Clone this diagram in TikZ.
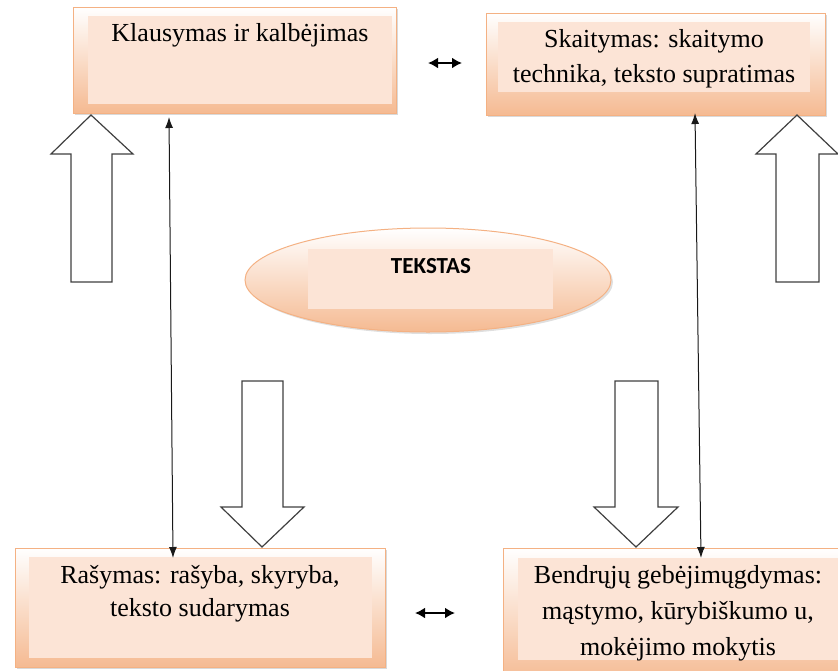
\documentclass[tikz,border=0pt]{standalone}
\usepackage{fontspec}
\setmainfont{Liberation Serif}
\newfontfamily\calib{Carlito}
\usetikzlibrary{shadows,arrows.meta,shapes.geometric}
\definecolor{peach}{HTML}{FCE4D6}
\definecolor{orng}{HTML}{F4B183}
\definecolor{orngdeep}{HTML}{F5BA92}
\definecolor{arrowgray}{HTML}{404040}
\tikzset{
  outerbox/.style={draw=orng, line width=1pt, top color=white, bottom color=orngdeep,
    drop shadow={opacity=0.3, shadow xshift=2pt, shadow yshift=-2pt},
    inner sep=0pt, outer sep=0pt, anchor=north west},
  innerbox/.style={fill=peach, draw=none, inner sep=0pt, outer sep=0pt, anchor=north west},
  blockarrow/.style={draw=arrowgray, line width=1.2pt, fill=white, line join=miter},
  thinarrow/.style={draw=black!90, line width=1pt,
    {Latex[length=11pt,width=8pt]}-{Latex[length=11pt,width=8pt]}},
  smallarrow/.style={line width=2pt,
    {Latex[length=10pt,width=11pt]}-{Latex[length=10pt,width=11pt]}},
  boxtext/.style={align=center, inner sep=0pt, anchor=base}
}
\begin{document}
\begin{tikzpicture}[x=1pt,y=-1pt]
\useasboundingbox (0,0) rectangle (838,670);
% boxes
\node[outerbox, minimum width=323, minimum height=106] (tl) at (73,7) {};
\node[innerbox, minimum width=304, minimum height=88] (tli) at (88,16) {};
\node[outerbox, minimum width=339, minimum height=102] (tr) at (486,13) {};
\node[innerbox, minimum width=312, minimum height=70] (tri) at (498,22) {};
\node[outerbox, minimum width=370, minimum height=119] (bl) at (15,548) {};
\node[innerbox, minimum width=343, minimum height=101] (bli) at (29,557) {};
\node[outerbox, minimum width=350, minimum height=135] (br) at (503,548) {};
\node[innerbox, minimum width=320, minimum height=102] (bri) at (518,558) {};
% texts (base anchor = baseline of the last line)
\node[boxtext, font=\fontsize{26}{36}\selectfont] (tlt) at (240,41) {Klausymas ir kalbėjimas};
\node[boxtext, font=\fontsize{26}{35}\selectfont] (trt) at (654,82) {Skaitymas: skaitymo\\technika, teksto supratimas};
\node[boxtext, font=\fontsize{26}{33}\selectfont] (blt) at (200,616) {Rašymas: rašyba, skyryba,\\teksto sudarymas};
\node[boxtext, font=\fontsize{26}{36}\selectfont] (brt) at (678,655) {Bendrųjų gebėjimųgdymas:\\mąstymo, kūrybiškumo u,\\mokėjimo mokytis};
% ellipse
\node[ellipse, draw=orng, line width=1pt, top color=white, bottom color=orngdeep,
  drop shadow={opacity=0.25, shadow xshift=2pt, shadow yshift=-2pt},
  minimum width=366, minimum height=104, inner sep=0pt] (el) at (428,280) {};
\node[innerbox, minimum width=245, minimum height=60] (eli) at (308,249) {};
\node[boxtext, font=\calib\bfseries\fontsize{23}{27}\selectfont] (elt) at (431,273) {TEKSTAS};
% block arrows
\draw[blockarrow] (91,115) -- (133,154) -- (112,154) -- (112,282) -- (71,282) -- (71,154) -- (51,154) -- cycle;
\draw[blockarrow] (797,115) -- (838,154) -- (819,154) -- (819,282) -- (776,282) -- (776,154) -- (756,154) -- cycle;
\draw[blockarrow] (262,547) -- (304,507) -- (283,507) -- (283,381) -- (242,381) -- (242,507) -- (221,507) -- cycle;
\draw[blockarrow] (636,547) -- (678,507) -- (658,507) -- (658,381) -- (615,381) -- (615,507) -- (594,507) -- cycle;
% thin arrows
\coordinate (la) at (169,117);
\coordinate (lb) at (173,558);
\coordinate (ra) at (695,113);
\coordinate (rb) at (701,558);
\draw[thinarrow] (la) -- (lb);
\draw[thinarrow] (ra) -- (rb);
% small horizontal arrows
\coordinate (ha) at (428,63);
\coordinate (hb) at (462,63);
\coordinate (hc) at (415,613);
\coordinate (hd) at (455,613);
\draw[smallarrow] (ha) -- (hb);
\draw[smallarrow] (hc) -- (hd);
\end{tikzpicture}
\end{document}
